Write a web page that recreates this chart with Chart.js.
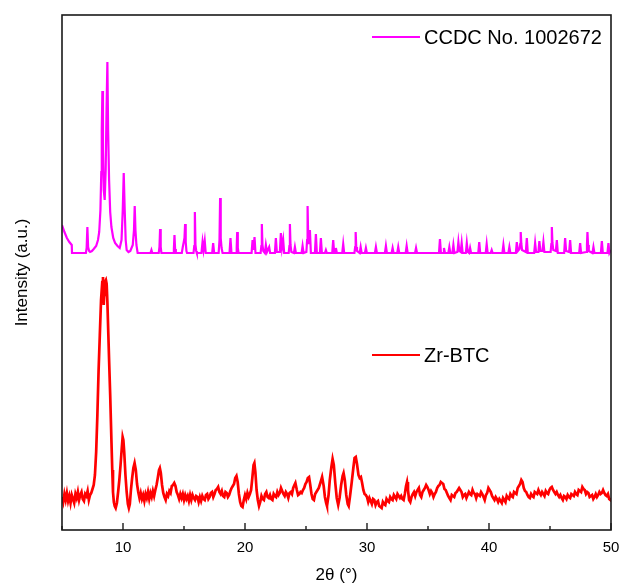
<!DOCTYPE html>
<html><head><meta charset="utf-8">
<script src="https://cdn.jsdelivr.net/npm/chart.js@4.4.0/dist/chart.umd.min.js"></script>
<style>html,body{margin:0;padding:0;background:#fff}#wrap{width:621px;height:586px}</style>
</head><body><div id="wrap"><canvas id="c" width="621" height="586"></canvas></div>
<script>
const xTickLabels = ['10', '20', '30', '40', '50'];
const seriesNames = ['CCDC No. 1002672', 'Zr-BTC'];
const xTitle = '2\u03B8 (\u00B0)';
const yTitle = 'Intensity (a.u.)';

// simulated pattern, [2theta, intensity]
const ccdc = [
[5.0,305],[5.2,298],[5.4,292],[5.6,288],[5.8,285],[5.82,277],
[6.96,277],[7.02,282],[7.08,303],[7.14,283],[7.22,279],[7.3,278],[7.45,279],[7.6,281],[7.8,284],[7.95,290],[8.05,298],[8.15,320],[8.22,358],[8.26,400],[8.31,439],[8.36,380],[8.42,340],[8.5,330],[8.58,360],[8.65,420],[8.72,468],[8.78,400],[8.86,350],[8.95,318],[9.05,303],[9.2,292],[9.35,287],[9.55,284],[9.73,282],[9.88,290],[9.98,320],[10.06,357],[10.14,320],[10.22,290],[10.3,280],[10.45,278],[10.6,279],[10.8,285],[10.9,300],[10.96,324],[11.02,300],[11.1,285],[11.2,277],
[12.25,277],[12.33,280],[12.4,277],
[12.93,277],[12.99,283],[13.04,301],[13.09,283],[13.15,277],
[14.11,277],[14.17,281],[14.22,295],[14.27,281],[14.33,277],
[14.82,277],[14.9,283],[14.98,288],[15.04,292],[15.09,306],[15.14,288],[15.2,279],[15.25,277],
[15.78,277],[15.84,284],[15.89,318],[15.94,285],[16.0,279],[16.05,277],
[16.43,277],[16.52,288],[16.6,280],[16.7,289],[16.78,277],
[17.31,277],[17.39,287],[17.47,277],
[17.84,277],[17.91,290],[17.96,332],[18.01,292],[18.08,282],[18.16,277],
[18.73,277],[18.81,292],[18.89,277],
[19.27,277],[19.32,282],[19.36,298],[19.41,282],[19.47,277],
[20.54,277],[20.62,290],[20.7,280],[20.78,293],[20.86,277],
[21.28,277],[21.34,284],[21.38,306],[21.43,285],[21.5,279],[21.63,277],[21.71,285],[21.8,278],[21.98,283],[22.06,277],
[22.45,277],[22.53,292],[22.61,278],[22.86,278],[22.94,297],[23.03,282],[23.13,290],[23.21,277],
[23.58,277],[23.64,284],[23.68,306],[23.73,285],[23.8,278],[24.01,277],[24.09,283],[24.17,277],
[24.64,277],[24.72,284],[24.8,277],[25.03,278],[25.09,290],[25.13,324],[25.18,292],[25.24,286],[25.32,300],[25.4,277],
[25.73,277],[25.81,296],[25.89,277],[26.14,277],[26.22,292],[26.3,277],[26.55,277],[26.63,280],[26.71,277],
[27.15,277],[27.23,290],[27.31,277],[27.38,277],[27.45,282],[27.53,277],
[27.97,277],[28.05,286],[28.13,277],
[28.97,277],[29.03,283],[29.07,298],[29.12,283],[29.18,279],[29.4,277],[29.48,283],[29.56,277],[29.83,277],[29.91,282],[29.99,277],
[30.65,277],[30.73,283],[30.81,277],[31.47,277],[31.55,284],[31.63,277],[32.02,277],[32.1,282],[32.18,277],
[32.48,277],[32.56,283],[32.64,277],[33.17,277],[33.25,284],[33.33,277],[33.94,277],[34.02,282],[34.1,277],
[35.9,277],[35.98,291],[36.06,277],[36.23,277],[36.31,282],[36.39,277],[36.67,277],[36.75,283],[36.83,277],
[37.0,277],[37.08,285],[37.16,277],[37.41,278],[37.49,288],[37.57,279],[37.68,278],[37.76,287],[37.84,277],
[38.1,277],[38.18,287],[38.26,278],[38.37,277],[38.45,282],[38.53,277],
[39.12,277],[39.2,288],[39.28,277],[39.73,277],[39.81,286],[39.89,277],[40.14,277],[40.22,280],[40.3,277],
[41.1,277],[41.18,285],[41.26,277],[41.59,277],[41.67,283],[41.75,277],
[42.2,277],[42.28,288],[42.36,279],[42.5,281],[42.56,286],[42.6,298],[42.65,286],[42.71,280],[43.02,278],[43.1,292],[43.18,277],
[43.7,277],[43.78,287],[43.86,278],[44.05,278],[44.13,289],[44.21,279],[44.38,279],[44.46,288],[44.54,278],
[45.05,278],[45.11,286],[45.15,303],[45.2,287],[45.27,280],[45.48,279],[45.56,290],[45.64,277],
[46.16,277],[46.24,292],[46.32,279],[46.57,278],[46.65,290],[46.73,277],
[47.39,277],[47.47,287],[47.55,277],[47.97,278],[48.03,285],[48.07,298],[48.12,285],[48.18,279],[48.48,277],[48.56,283],[48.64,277],
[49.17,277],[49.25,289],[49.33,277],[49.71,277],[49.79,287],[49.87,277],[50.0,280]
];

// measured pattern, [2theta, intensity]
const zrBtc = [
[5.0,33],[5.1,28],[5.2,36],[5.3,30],[5.4,37],[5.5,29],[5.6,34],[5.7,27],[5.8,35],[5.9,31],[6.0,27],[6.1,36],[6.2,32],[6.3,38],[6.4,30],[6.5,35],[6.6,38],[6.7,31],[6.8,29],[6.9,36],[7.0,34],[7.1,39],[7.2,30],[7.3,35],[7.4,37],[7.5,41],
[7.6,45],[7.7,55],[7.8,78],[7.9,115],[8.0,160],[8.1,195],[8.2,230],[8.3,248],[8.36,253],[8.42,225],[8.46,235],[8.52,248],[8.6,250],[8.66,246],[8.72,228],[8.8,195],[8.86,170],[8.95,135],[9.05,90],[9.12,60],[9.18,38],[9.25,28],[9.32,24],[9.4,22],[9.5,27],[9.6,38],[9.7,50],[9.8,65],[9.9,82],[9.97,93],[10.03,90],[10.1,78],[10.2,55],[10.3,38],[10.4,26],[10.48,22],[10.56,26],[10.65,40],[10.75,52],[10.85,62],[10.95,67],[11.05,60],[11.15,46],[11.25,38],[11.35,32],
[11.45,37],[11.55,31],[11.65,35],[11.75,29],[11.85,36],[11.95,32],[12.05,38],[12.15,31],[12.25,37],[12.35,33],[12.45,39],[12.55,34],[12.65,40],[12.75,45],[12.85,52],[12.95,60],[13.02,62],[13.1,57],[13.2,45],[13.3,37],[13.4,33],[13.5,30],[13.6,36],[13.7,34],[13.8,39],[13.9,37],[14.0,44],[14.1,45],[14.2,47],[14.3,44],[14.4,38],[14.5,35],[14.6,31],[14.7,36],[14.8,32],[14.9,36],[15.0,30],[15.1,35],[15.2,31],[15.3,34],[15.4,29],[15.5,35],[15.6,30],[15.7,35],[15.8,32],[15.9,30],[16.0,34],[16.1,33],[16.2,28],[16.3,33],[16.4,29],[16.5,34],[16.6,31],[16.7,30],[16.8,35],[16.9,36],[17.0,31],[17.1,33],[17.2,37],[17.3,38],[17.4,33],[17.5,36],[17.6,40],[17.7,41],[17.8,43],[17.9,38],[18.0,36],[18.1,39],[18.2,34],[18.3,33],[18.4,38],[18.5,37],[18.6,33],[18.7,35],[18.8,39],[18.9,42],[19.0,44],[19.1,46],[19.2,52],[19.3,54],[19.4,48],[19.5,36],[19.6,28],[19.7,24],[19.8,23],[19.9,30],[20.0,35],[20.1,31],[20.2,37],[20.3,33],[20.4,36],[20.5,40],[20.6,52],[20.7,65],[20.77,67],[20.85,58],[20.95,40],[21.05,30],[21.15,24],[21.25,28],[21.35,34],[21.45,31],[21.55,30],[21.65,36],[21.75,38],[21.85,33],[21.95,32],[22.05,35],[22.15,31],[22.25,30],[22.35,36],[22.45,34],[22.55,33],[22.65,38],[22.75,35],[22.85,37],[22.95,42],[23.05,39],[23.15,36],[23.25,34],[23.35,38],[23.45,36],[23.55,32],[23.65,37],[23.75,38],[23.85,36],[23.95,42],[24.05,45],[24.13,47],[24.25,40],[24.35,35],[24.45,36],[24.55,38],[24.65,37],[24.75,40],[24.85,42],[24.95,46],[25.05,48],[25.15,52],[25.25,53],[25.35,45],[25.45,36],[25.55,31],[25.65,30],[25.75,36],[25.85,38],[25.95,40],[26.05,42],[26.15,46],[26.25,50],[26.32,53],[26.45,44],[26.55,33],[26.65,27],[26.72,24],[26.85,35],[26.95,50],[27.08,63],[27.18,71],[27.28,65],[27.4,47],[27.52,32],[27.64,25],[27.75,32],[27.88,45],[28.0,54],[28.08,57],[28.18,50],[28.3,35],[28.42,26],[28.5,24],[28.6,33],[28.75,48],[28.88,62],[28.98,72],[29.08,73],[29.18,66],[29.3,55],[29.4,52],[29.5,53],[29.6,47],[29.7,40],[29.8,36],[29.9,35],[30.0,33],[30.1,28],[30.2,32],[30.3,29],[30.4,26],[30.5,31],[30.6,30],[30.7,25],[30.8,28],[30.9,29],[31.0,24],[31.1,23],[31.2,22],[31.3,28],[31.4,26],[31.5,25],[31.6,31],[31.7,29],[31.8,28],[31.9,33],[32.0,31],[32.1,30],[32.2,35],[32.3,33],[32.4,31],[32.5,36],[32.6,34],[32.7,32],[32.8,34],[32.9,31],[33.0,30],[33.1,36],[33.2,44],[33.28,48],[33.36,40],[33.45,30],[33.55,28],[33.65,33],[33.75,36],[33.85,38],[33.95,34],[34.05,38],[34.15,40],[34.25,42],[34.35,35],[34.45,33],[34.55,38],[34.65,40],[34.75,42],[34.85,45],[34.95,43],[35.05,40],[35.15,36],[35.25,39],[35.35,37],[35.45,33],[35.55,36],[35.65,38],[35.75,42],[35.85,44],[35.95,45],[36.05,48],[36.15,47],[36.25,46],[36.35,41],[36.45,40],[36.55,37],[36.65,34],[36.75,32],[36.85,30],[36.95,35],[37.05,34],[37.15,33],[37.25,37],[37.35,38],[37.45,40],[37.55,42],[37.65,40],[37.75,38],[37.85,33],[37.95,35],[38.05,36],[38.15,32],[38.25,35],[38.35,38],[38.45,36],[38.55,35],[38.65,40],[38.75,37],[38.85,36],[38.95,32],[39.05,36],[39.15,35],[39.25,34],[39.35,38],[39.45,36],[39.55,33],[39.65,30],[39.75,35],[39.85,37],[39.95,42],[40.05,40],[40.15,38],[40.25,34],[40.35,32],[40.45,30],[40.55,33],[40.65,31],[40.75,28],[40.85,31],[40.95,29],[41.05,27],[41.15,32],[41.25,30],[41.35,28],[41.45,34],[41.55,32],[41.65,31],[41.75,36],[41.85,34],[41.95,33],[42.05,38],[42.15,37],[42.25,36],[42.35,42],[42.45,44],[42.55,46],[42.65,50],[42.75,48],[42.85,42],[42.95,39],[43.05,38],[43.15,35],[43.25,33],[43.35,32],[43.45,36],[43.55,34],[43.65,33],[43.75,38],[43.85,37],[43.95,36],[44.05,40],[44.15,37],[44.25,35],[44.35,38],[44.45,36],[44.55,34],[44.65,39],[44.75,37],[44.85,36],[44.95,40],[45.05,42],[45.15,43],[45.25,40],[45.35,38],[45.45,36],[45.55,38],[45.65,35],[45.75,33],[45.85,35],[45.95,32],[46.05,30],[46.15,34],[46.25,33],[46.35,31],[46.45,35],[46.55,33],[46.65,32],[46.75,36],[46.85,35],[46.95,34],[47.05,38],[47.15,36],[47.25,35],[47.35,40],[47.45,39],[47.55,38],[47.65,43],[47.75,41],[47.85,40],[47.95,36],[48.05,38],[48.15,37],[48.25,33],[48.35,34],[48.45,35],[48.55,31],[48.65,33],[48.75,36],[48.85,33],[48.95,35],[49.05,38],[49.15,36],[49.25,37],[49.35,40],[49.45,37],[49.55,35],[49.65,34],[49.75,36],[49.85,31],[49.95,30],[50.0,32]
];

const FONT = 'Liberation Sans, Arial, sans-serif';

const framePlugin = {
  id: 'frame',
  afterDatasetsDraw(chart) {
    const {ctx, chartArea: a, scales: {x}} = chart;
    ctx.save();
    ctx.strokeStyle = '#1a1a1a';
    ctx.lineWidth = 1.6;
    ctx.strokeRect(a.left, a.top, a.right - a.left, a.bottom - a.top);
    ctx.lineWidth = 1.4;
    x.ticks.forEach(t => {
      const px = x.getPixelForValue(t.value);
      const len = (t.value % 10 === 0) ? 7 : 4;
      ctx.beginPath();
      ctx.moveTo(px, a.bottom);
      ctx.lineTo(px, a.bottom - len);
      ctx.stroke();
    });
    ctx.restore();
  }
};

const legendPlugin = {
  id: 'customLegend',
  afterDraw(chart) {
    const {ctx} = chart;
    const items = [
      {name: seriesNames[0], color: '#ff00ff', y: 37},
      {name: seriesNames[1], color: '#ff0000', y: 355}
    ];
    ctx.save();
    items.forEach(it => {
      ctx.strokeStyle = it.color;
      ctx.lineWidth = 2;
      ctx.beginPath();
      ctx.moveTo(372, it.y);
      ctx.lineTo(420, it.y);
      ctx.stroke();
      ctx.fillStyle = '#000';
      ctx.font = '20px ' + FONT;
      ctx.textBaseline = 'middle';
      ctx.textAlign = 'left';
      ctx.fillText(it.name, 424, it.y + 1);
    });
    ctx.restore();
  }
};

new Chart(document.getElementById('c'), {
  type: 'line',
  data: {
    datasets: [
      {label: seriesNames[0], data: ccdc.map(p => ({x: p[0], y: p[1]})), borderColor: '#ff00ff', borderWidth: 2.2, pointRadius: 0, tension: 0, fill: false},
      {label: seriesNames[1], data: zrBtc.map(p => ({x: p[0], y: p[1]})), borderColor: '#ff0000', borderWidth: 2.7, pointRadius: 0, tension: 0, fill: false}
    ]
  },
  options: {
    responsive: false,
    animation: false,
    devicePixelRatio: 1,
    layout: {padding: {top: 15, right: 10, left: 0, bottom: 0}},
    plugins: {legend: {display: false}, tooltip: {enabled: false}},
    scales: {
      x: {
        type: 'linear', min: 5, max: 50,
        grid: {display: false},
        border: {display: false},
        ticks: {
          stepSize: 5, autoSkip: false, maxRotation: 0,
          color: '#000', font: {family: FONT, size: 15}, padding: 1,
          callback: v => xTickLabels.includes(String(v)) ? String(v) : ''
        },
        title: {display: true, text: xTitle, color: '#000', font: {family: FONT, size: 17}, padding: {top: 0, bottom: 0}},
        afterFit: s => { s.height = 56; s.paddingLeft = 0; s.paddingRight = 0; }
      },
      y: {
        type: 'linear', min: 0, max: 515,
        grid: {display: false},
        border: {display: false},
        ticks: {display: false},
        title: {display: true, text: yTitle, color: '#000', font: {family: FONT, size: 17}, padding: {top: 12, bottom: 0}},
        afterFit: s => { s.width = 62; }
      }
    }
  },
  plugins: [framePlugin, legendPlugin]
});
</script>
</body></html>
